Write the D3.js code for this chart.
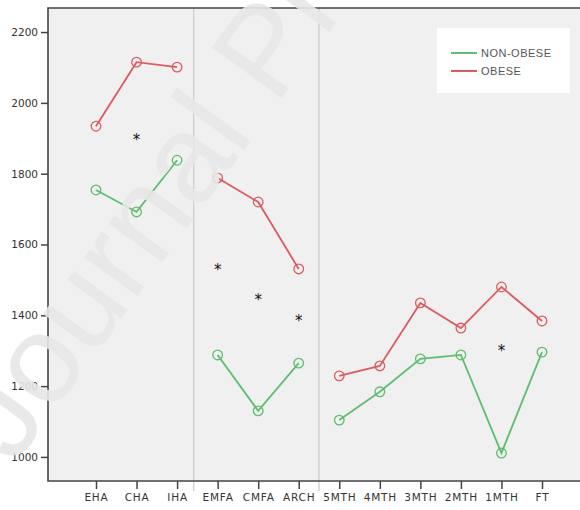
<!DOCTYPE html>
<html><head><meta charset="utf-8">
<script src="https://cdn.jsdelivr.net/npm/d3@7"></script>
<style>body{margin:0;background:#fff}svg{display:block}</style>
</head><body><svg id="c" width="580" height="510"></svg>
<script>
const categories = ["EHA","CHA","IHA","EMFA","CMFA","ARCH","5MTH","4MTH","3MTH","2MTH","1MTH","FT"];
const groups = [["EHA","CHA","IHA"],["EMFA","CMFA","ARCH"],["5MTH","4MTH","3MTH","2MTH","1MTH","FT"]];
const nonObese = [1754,1692,1838,1288,1130,1265,1104,1184,1277,1288,1011,1296];
const obese    = [1934,2115,2101,1788,1720,1531,1229,1257,1435,1364,1480,1384];
const sigCats  = ["CHA","EMFA","CMFA","ARCH","1MTH"];
const sigVals  = [1905,1538,1455,1395,1310];
const yTicks   = [1000,1200,1400,1600,1800,2000,2200];
const seriesNames = ["NON-OBESE","OBESE"];
const colors = {"NON-OBESE":"#5fbd6e","OBESE":"#dc5b60"};

const svg = d3.select("#c");
const L=48,R=582,T=8,B=481;
const x = d3.scalePoint().domain(categories).range([96,542]);
const y = d3.scaleLinear().domain([932,2268]).range([B,T]);
const step = x.step();

svg.append("rect").attr("x",L).attr("y",T).attr("width",R-L).attr("height",B-T).attr("fill","#f0f0f0");

// group separators
[x("IHA")+step*0.41, x("ARCH")+step*0.5].forEach(sx=>{
  svg.append("line").attr("x1",sx).attr("x2",sx).attr("y1",T).attr("y2",B+10)
    .attr("stroke","#c9c9c9").attr("stroke-width",1.2);
});

const series = [{name:"NON-OBESE",vals:nonObese},{name:"OBESE",vals:obese}];
const line = d3.line().x(d=>x(d.c)).y(d=>y(d.v));
series.forEach(s=>{
  const pts = categories.map((c,i)=>({c:c,v:s.vals[i]}));
  groups.forEach(g=>{
    svg.append("path").attr("d",line(pts.filter(p=>g.includes(p.c)))).attr("fill","none")
      .attr("stroke",colors[s.name]).attr("stroke-width",1.8);
  });
  svg.selectAll(null).data(pts).enter().append("circle")
    .attr("cx",d=>x(d.c)).attr("cy",d=>y(d.v)).attr("r",4.8)
    .attr("fill","none").attr("stroke",colors[s.name]).attr("stroke-width",1.3);
});

svg.selectAll(null).data(sigCats).enter().append("text")
  .attr("x",d=>x(d)).attr("y",(d,i)=>y(sigVals[i])).attr("dy","0.58em")
  .attr("text-anchor","middle").attr("font-family","DejaVu Sans").attr("font-size",15)
  .attr("fill","#111").text("*");

// axes
const yAxis = svg.append("g").attr("transform",`translate(${L},0)`)
  .call(d3.axisLeft(y).tickValues(yTicks).tickSize(7).tickPadding(3).tickFormat(d3.format("d")));
const xAxis = svg.append("g").attr("transform",`translate(0,${B})`)
  .call(d3.axisBottom(x).tickSize(8).tickPadding(5));
[yAxis,xAxis].forEach(g=>{
  g.select(".domain").remove();
  g.selectAll("line").attr("stroke","#444").attr("stroke-width",1.5);
  g.selectAll("text").attr("font-family","DejaVu Sans").attr("font-size",10.5).attr("fill","#333");
});
xAxis.selectAll("text").attr("letter-spacing",0.8);
// frame
svg.append("path").attr("d",`M${R},${T}H${L}V${B}H${R}`).attr("fill","none")
  .attr("stroke","#444").attr("stroke-width",1.6);

// legend
const lg = svg.append("g");
lg.append("rect").attr("x",437).attr("y",28).attr("width",133).attr("height",65).attr("fill","#fff");
seriesNames.forEach((n,i)=>{
  const ly = 53 + i*18;
  lg.append("line").attr("x1",451).attr("x2",477).attr("y1",ly).attr("y2",ly)
    .attr("stroke",colors[n]).attr("stroke-width",2);
  lg.append("text").attr("x",481).attr("y",ly).attr("dy","0.36em")
    .attr("font-family","Liberation Sans").attr("font-size",11).attr("letter-spacing",0.5)
    .attr("fill","#555").text(n);
});

// watermark
svg.append("text").attr("transform","translate(14,466) rotate(-54)")
  .attr("font-family","Liberation Sans").attr("font-size",125)
  .attr("fill","#e7e7e7").attr("fill-opacity",0.9).text("Journal Pre-proof");
</script></body></html>
